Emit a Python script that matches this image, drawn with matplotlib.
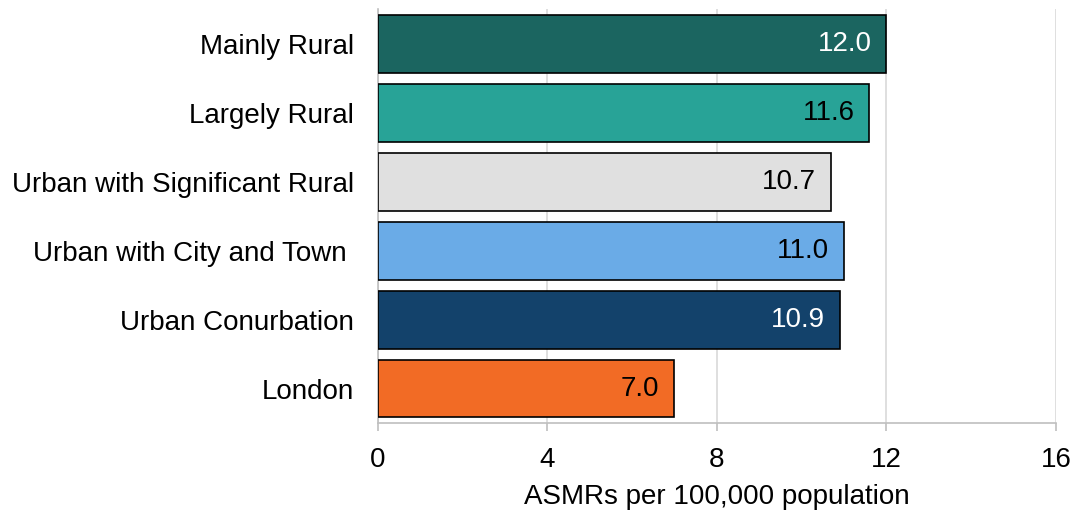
import matplotlib.pyplot as plt

# ASMRs by rural-urban classification
categories = ["Mainly Rural", "Largely Rural", "Urban with Significant Rural",
              "Urban with City and Town ", "Urban Conurbation", "London"]
values = [12.0, 11.6, 10.7, 11.0, 10.9, 7.0]
colours = ["#1b6560", "#28a397", "#e0e0e0", "#6aabe7", "#13426b", "#f26b25"]
label_colours = ["white", "black", "black", "black", "white", "black"]
xticks = [0, 4, 8, 12, 16]

plt.rcParams["font.family"] = ["Liberation Sans", "DejaVu Sans"]
fs = 20

fig = plt.figure(figsize=(10.73, 5.13), dpi=100)
ax = fig.add_axes([0.352, 0.1755, 0.632, 0.806])

pos = list(range(len(categories)))
ax.barh(pos, values, height=0.84, color=colours, edgecolor="black", linewidth=1.2, zorder=3)

for p, v, c in zip(pos, values, label_colours):
    ax.text(v - 0.35, p, f"{v:.1f}", ha="right", va="center", fontsize=fs, color=c, zorder=4)

ax.set_ylim(len(categories) - 0.5, -0.5)
ax.set_yticks(pos)
ax.set_yticklabels(categories, fontsize=fs)
ax.tick_params(axis="y", length=0, pad=17)

ax.set_xlim(0, 16)
ax.set_xticks(xticks)
ax.set_xticklabels([str(t) for t in xticks], fontsize=fs)
ax.tick_params(axis="x", length=6, width=1.2, color="#bfbfbf", pad=11)
ax.set_xlabel("ASMRs per 100,000 population", fontsize=fs, labelpad=8)

ax.grid(axis="x", color="#d9d9d9", linewidth=1.2, zorder=0)
for side in ["top", "right"]:
    ax.spines[side].set_visible(False)
for side in ["left", "bottom"]:
    ax.spines[side].set_color("#bfbfbf")
    ax.spines[side].set_linewidth(1.2)

fig.savefig("out.png", dpi=100)
